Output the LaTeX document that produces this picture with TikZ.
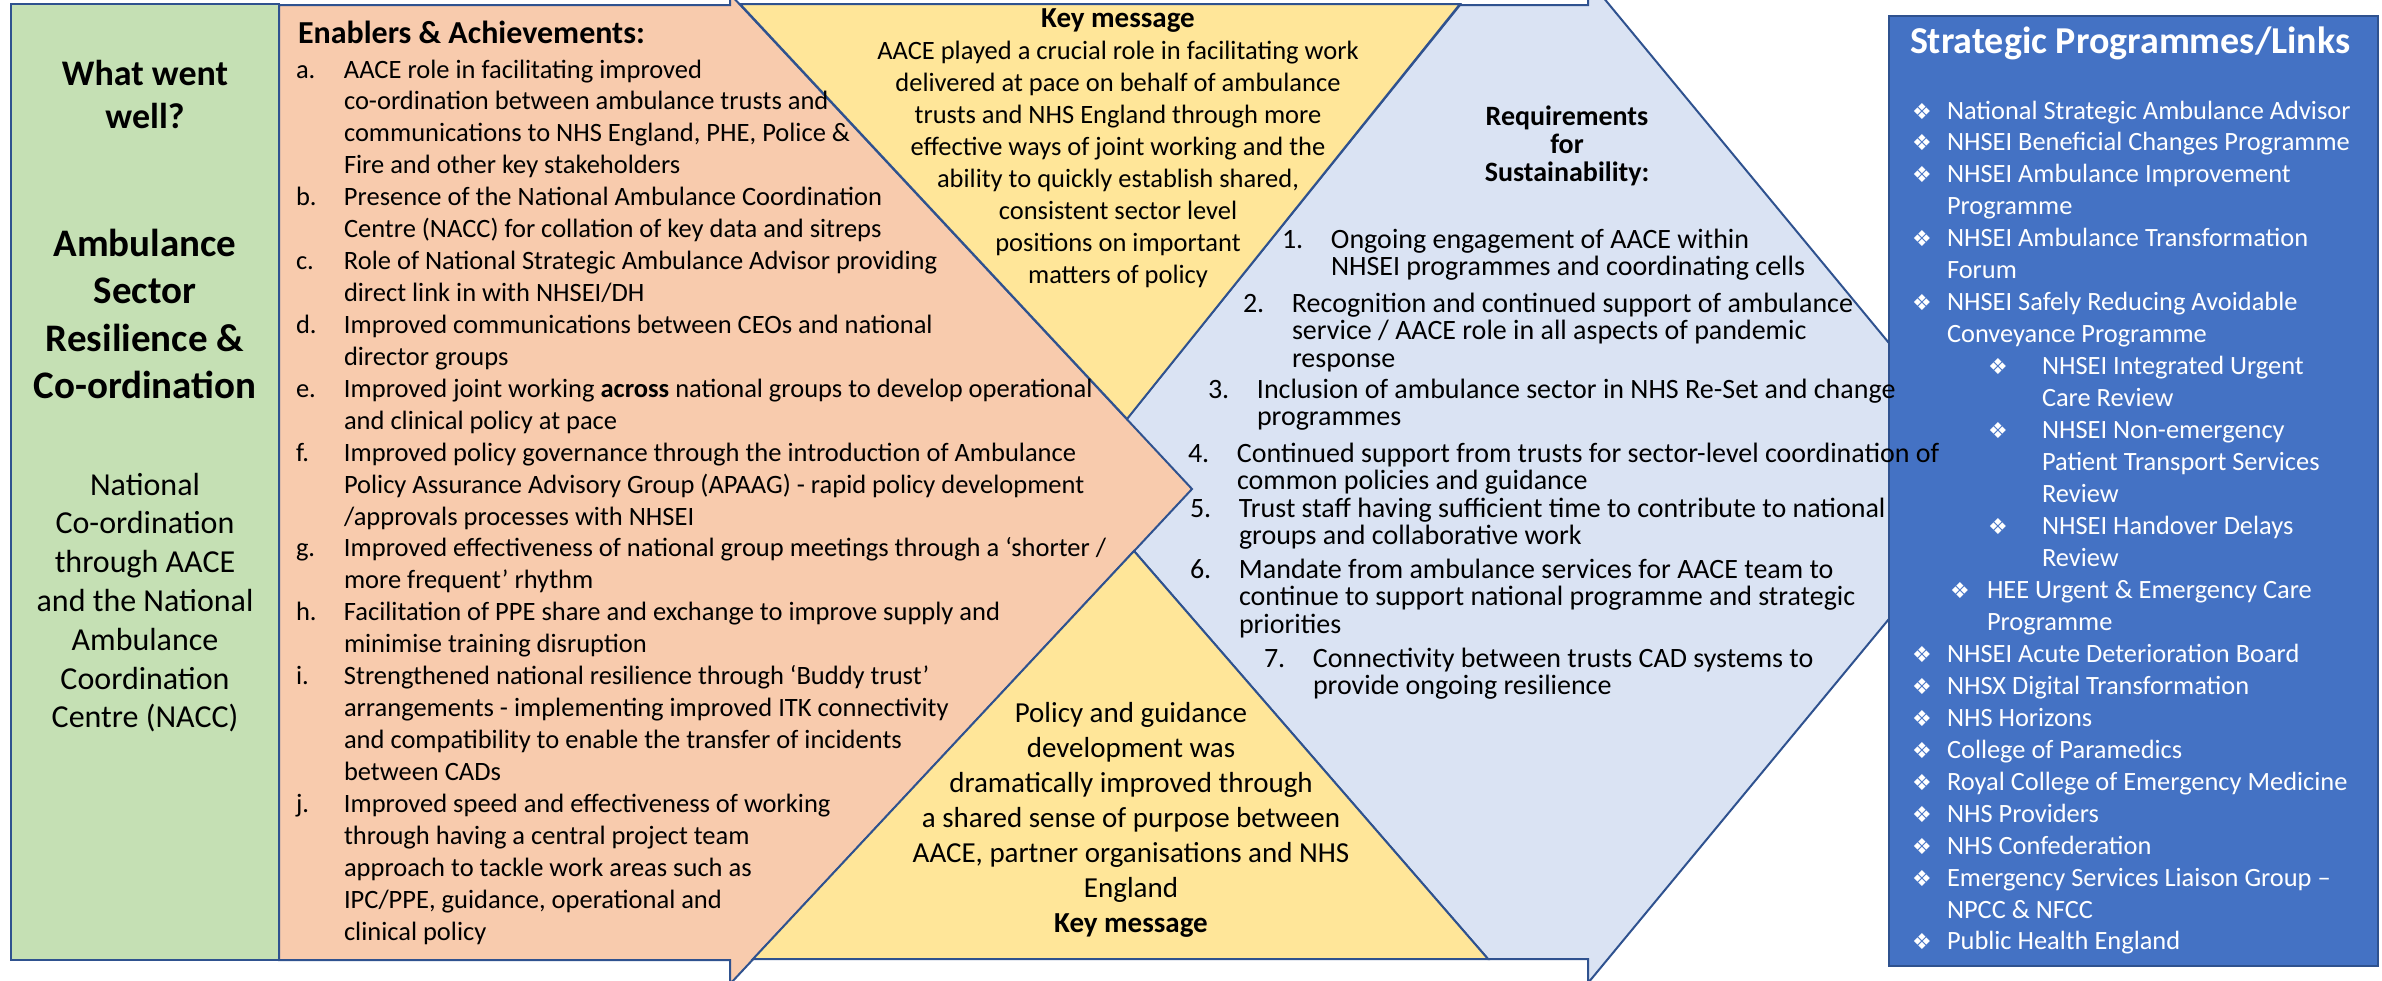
\documentclass[tikz,border=0pt]{standalone}
\usepackage{fontspec}
\setmainfont{Carlito}
\newfontfamily\symfont{DejaVu Sans}

\definecolor{edge}{HTML}{2F528F}
\definecolor{greenfill}{HTML}{C5E0B4}
\definecolor{orangefill}{HTML}{F8CBAD}
\definecolor{yellowfill}{HTML}{FFE699}
\definecolor{bluefill}{HTML}{DAE3F3}
\definecolor{navyfill}{HTML}{4472C4}

% list helpers
\newcommand\lab[1]{\makebox[48pt][l]{#1}}
\newcommand\nlab[1]{\makebox[49pt][l]{#1}}
\newcommand\bul{{\symfont\fontsize{22}{22}\selectfont ❖}}
% bullet at offset #1, text at offset #2
\newcommand\sit[3]{\makebox[0pt][l]{\hspace*{#1pt}\bul}\hspace*{#2pt}#3}
\newcommand\cont[2]{\hspace*{#1pt}#2}

\begin{document}
\begin{tikzpicture}[x=1pt,y=-1pt,
  panel/.style={draw=edge, line width=2pt, line join=miter},
  txt/.style={inner sep=0pt, outer sep=0pt, anchor=base west},
  ctxt/.style={inner sep=0pt, outer sep=0pt, anchor=base}]
\useasboundingbox (0,0) rectangle (2382,980);
\clip (0,0) rectangle (2382,980);

% notched arrow: requirements for sustainability
\draw[panel, fill=bluefill] (1460,5) -- (1588,5) -- (1588,-21) -- (2003,481)
  -- (1588,983) -- (1588,959) -- (1488,959) -- (1075,483) -- cycle;
% block arrow: enablers and achievements
\draw[panel, fill=orangefill] (279,5) -- (730,5) -- (730,-6) -- (1192,489)
  -- (730,984) -- (730,960) -- (279,960) -- cycle;
% key message triangles
\draw[panel, fill=yellowfill] (740,4) -- (1460,4) -- (1127,419) -- cycle;
\draw[panel, fill=yellowfill] (753,959) -- (1488,959) -- (1134,551) -- cycle;
% left title panel
\draw[panel, fill=greenfill] (11,4) rectangle (279,960);
% strategic programmes panel
\draw[panel, fill=navyfill] (1889,16) rectangle (2378,966);

% left panel text
\node[ctxt] (went) at (145,85) {\fontsize{36}{43}\selectfont\bfseries
  \begin{tabular}[t]{@{}c@{}}What went\\well?\end{tabular}};
\node[ctxt] (sector) at (145,256) {\fontsize{39}{47.5}\selectfont\bfseries
  \begin{tabular}[t]{@{}c@{}}Ambulance\\Sector\\Resilience \&\\Co-ordination\end{tabular}};
\node[ctxt] (nacc) at (145,495) {\fontsize{32}{38.8}\selectfont
  \begin{tabular}[t]{@{}c@{}}National\\Co-ordination\\through AACE\\and the National\\Ambulance\\Coordination\\Centre (NACC)\end{tabular}};

% enablers list
\node[txt] (enhead) at (298,43) {\fontsize{32}{36}\selectfont\bfseries Enablers \& Achievements:};
\node[txt] (enlist) at (296,78) {\fontsize{26.5}{31.93}\selectfont
  \begin{tabular}[t]{@{}l@{}l@{}}
  \lab{a.} & AACE role in facilitating improved\\
   & co-ordination between ambulance trusts and\\
   & communications to NHS England, PHE, Police \&\\
   & Fire and other key stakeholders\\
  \lab{b.} & Presence of the National Ambulance Coordination\\
   & Centre (NACC) for collation of key data and sitreps\\
  \lab{c.} & Role of National Strategic Ambulance Advisor providing\\
   & direct link in with NHSEI/DH\\
  \lab{d.} & Improved communications between CEOs and national\\
   & director groups\\
  \lab{e.} & Improved joint working \textbf{across} national groups to develop operational\\
   & and clinical policy at pace\\
  \lab{f.} & Improved policy governance through the introduction of Ambulance\\
   & Policy Assurance Advisory Group (APAAG) - rapid policy development\\
   & /approvals processes with NHSEI\\
  \lab{g.} & Improved effectiveness of national group meetings through a ‘shorter /\\
   & more frequent’ rhythm\\
  \lab{h.} & Facilitation of PPE share and exchange to improve supply and\\
   & minimise training disruption\\
  \lab{i.} & Strengthened national resilience through ‘Buddy trust’\\
   & arrangements - implementing improved ITK connectivity\\
   & and compatibility to enable the transfer of incidents\\
   & between CADs\\
  \lab{j.} & Improved speed and effectiveness of working\\
   & through having a central project team\\
   & approach to tackle work areas such as\\
   & IPC/PPE, guidance, operational and\\
   & clinical policy
  \end{tabular}};

% key messages
\node[ctxt] (keytop) at (1118,27) {\fontsize{26.5}{32}\selectfont
  \begin{tabular}[t]{@{}c@{}}
  {\fontsize{29}{32}\selectfont\bfseries Key message}\\
  AACE played a crucial role in facilitating work\\
  delivered at pace on behalf of ambulance\\
  trusts and NHS England through more\\
  effective ways of joint working and the\\
  ability to quickly establish shared,\\
  consistent sector level\\
  positions on important\\
  matters of policy
  \end{tabular}};
\node[ctxt] (keybot) at (1131,722) {\fontsize{29}{35}\selectfont
  \begin{tabular}[t]{@{}c@{}}
  Policy and guidance\\
  development was\\
  dramatically improved through\\
  a shared sense of purpose between\\
  AACE, partner organisations and NHS\\
  England\\
  \textbf{Key message}
  \end{tabular}};

% requirements for sustainability
\node[ctxt] (reqhead) at (1567,125) {\fontsize{28}{28}\selectfont\bfseries
  \begin{tabular}[t]{@{}c@{}}Requirements\\for\\Sustainability:\end{tabular}};
\tikzset{req/.style={txt, font=\fontsize{28}{27.5}\selectfont}}
\node[req] (r1) at (1282,248) {\begin{tabular}[t]{@{}l@{}l@{}}\nlab{1.} & Ongoing engagement of AACE within\\ & NHSEI programmes and coordinating cells\end{tabular}};
\node[req] (r2) at (1243,312) {\begin{tabular}[t]{@{}l@{}l@{}}\nlab{2.} & Recognition and continued support of ambulance\\ & service / AACE role in all aspects of pandemic\\ & response\end{tabular}};
\node[req] (r3) at (1208,398) {\begin{tabular}[t]{@{}l@{}l@{}}\nlab{3.} & Inclusion of ambulance sector in NHS Re-Set and change\\ & programmes\end{tabular}};
\node[req] (r4) at (1188,462) {\begin{tabular}[t]{@{}l@{}l@{}}\nlab{4.} & Continued support from trusts for sector-level coordination of\\ & common policies and guidance\end{tabular}};
\node[req] (r5) at (1190,517) {\begin{tabular}[t]{@{}l@{}l@{}}\nlab{5.} & Trust staff having sufficient time to contribute to national\\ & groups and collaborative work\end{tabular}};
\node[req] (r6) at (1190,578) {\begin{tabular}[t]{@{}l@{}l@{}}\nlab{6.} & Mandate from ambulance services for AACE team to\\ & continue to support national programme and strategic\\ & priorities\end{tabular}};
\node[req] (r7) at (1264,667) {\begin{tabular}[t]{@{}l@{}l@{}}\nlab{7.} & Connectivity between trusts CAD systems to\\ & provide ongoing resilience\end{tabular}};

% strategic programmes / links
\node[txt, text=white] (sphead) at (1910,53) {\fontsize{38}{40}\selectfont\bfseries Strategic Programmes/Links};
\node[txt, text=white] (splist) at (1900,119) {\fontsize{26.4}{31.96}\selectfont
  \begin{tabular}[t]{@{}l@{}}
  \sit{12}{47}{National Strategic Ambulance Advisor}\\
  \sit{12}{47}{NHSEI Beneficial Changes Programme}\\
  \sit{12}{47}{NHSEI Ambulance Improvement}\\
  \cont{47}{Programme}\\
  \sit{12}{47}{NHSEI Ambulance Transformation}\\
  \cont{47}{Forum}\\
  \sit{12}{47}{NHSEI Safely Reducing Avoidable}\\
  \cont{47}{Conveyance Programme}\\
  \sit{88}{142}{NHSEI Integrated Urgent}\\
  \cont{142}{Care Review}\\
  \sit{88}{142}{NHSEI Non-emergency}\\
  \cont{142}{Patient Transport Services}\\
  \cont{142}{Review}\\
  \sit{88}{142}{NHSEI Handover Delays}\\
  \cont{142}{Review}\\
  \sit{50}{87}{HEE Urgent \& Emergency Care}\\
  \cont{87}{Programme}\\
  \sit{12}{47}{NHSEI Acute Deterioration Board}\\
  \sit{12}{47}{NHSX Digital Transformation}\\
  \sit{12}{47}{NHS Horizons}\\
  \sit{12}{47}{College of Paramedics}\\
  \sit{12}{47}{Royal College of Emergency Medicine}\\
  \sit{12}{47}{NHS Providers}\\
  \sit{12}{47}{NHS Confederation}\\
  \sit{12}{47}{Emergency Services Liaison Group –}\\
  \cont{47}{NPCC \& NFCC}\\
  \sit{12}{47}{Public Health England}
  \end{tabular}};
\end{tikzpicture}
\end{document}
